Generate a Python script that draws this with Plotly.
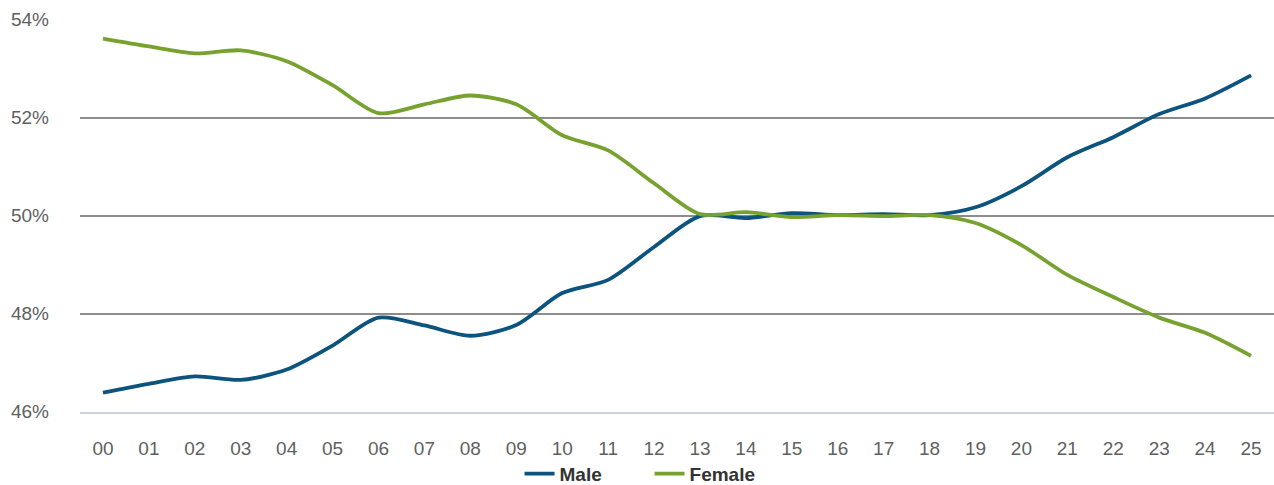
import plotly.graph_objects as go

years = ["00","01","02","03","04","05","06","07","08","09","10","11","12",
         "13","14","15","16","17","18","19","20","21","22","23","24","25"]
male = [46.39, 46.57, 46.72, 46.65, 46.86, 47.35, 47.92, 47.76, 47.55, 47.77,
        48.42, 48.69, 49.36, 49.99, 49.95, 50.05, 50.01, 50.03, 50.01, 50.17,
        50.60, 51.19, 51.60, 52.07, 52.39, 52.86]
female = [53.61, 53.45, 53.31, 53.37, 53.15, 52.66, 52.09, 52.27, 52.45, 52.27,
          51.64, 51.33, 50.66, 50.03, 50.07, 49.97, 50.01, 49.99, 50.01, 49.85,
          49.40, 48.79, 48.34, 47.92, 47.61, 47.14]
y_ticks = [46, 48, 50, 52, 54]
y_tick_labels = [f"{v}%" for v in y_ticks]

fig = go.Figure()
fig.add_trace(go.Scatter(x=years, y=male, name="Male", mode="lines",
                         line=dict(color="#0c537d", width=3.8, shape="spline", smoothing=0.8)))
fig.add_trace(go.Scatter(x=years, y=female, name="Female", mode="lines",
                         line=dict(color="#77a22f", width=3.8, shape="spline", smoothing=0.8)))

fig.update_layout(
    width=1274, height=485,
    margin=dict(l=80, r=0, t=19, b=73, autoexpand=False),
    plot_bgcolor="white", paper_bgcolor="white",
    font=dict(family="Liberation Sans, Arial, sans-serif", size=19, color="#5f5f5f"),
    showlegend=True,
    legend=dict(orientation="h", x=0.477, xanchor="center", y=-0.157, yanchor="middle",
                font=dict(size=19, color="#333333", weight="bold"),
                traceorder="normal", borderwidth=0,
                entrywidthmode="pixels", entrywidth=85),
    xaxis=dict(type="category", range=[-0.5, 25.5], showgrid=False, automargin=False,
               showline=True, linecolor="#c9d1e3", linewidth=2,
               ticks="", ticklabelstandoff=18, tickfont=dict(size=19, color="#5f5f5f")),
    yaxis=dict(range=[45.995, 54.01], tickmode="array", tickvals=y_ticks, ticktext=y_tick_labels,
               showgrid=True, gridcolor="#8c8c8c", gridwidth=1.5, automargin=False,
               zeroline=False, showline=False, ticks="",
               ticklabelstandoff=30, tickfont=dict(size=19, color="#5f5f5f")),
)

fig.write_html("out.html", config={"displayModeBar": False},
               post_script="document.body.style.margin='0';document.body.style.overflow='hidden';")
